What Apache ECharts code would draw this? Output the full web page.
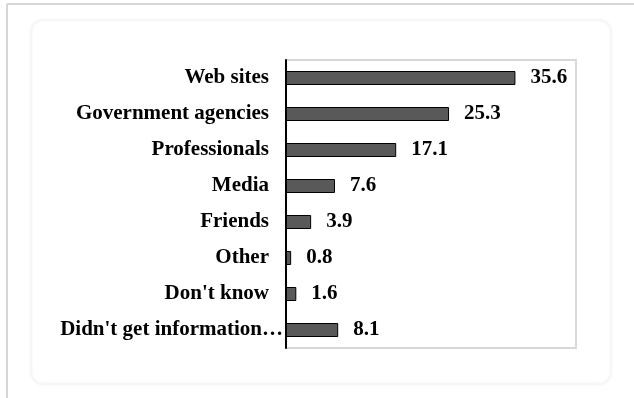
<!DOCTYPE html>
<html>
<head>
<meta charset="utf-8">
<script src="https://cdn.jsdelivr.net/npm/echarts@6/dist/echarts.min.js"></script>
<style>
  html, body { margin: 0; padding: 0; background: #ffffff; }
  #chart { width: 634px; height: 398px; }
</style>
</head>
<body>
<div id="chart"></div>
<script>
// Sources of information, percent of respondents
const categories = [
  'Web sites',
  'Government agencies',
  'Professionals',
  'Media',
  'Friends',
  'Other',
  "Don't know",
  "Didn't get information\u2026"
];
const shares = [35.6, 25.3, 17.1, 7.6, 3.9, 0.8, 1.6, 8.1];
const axisMax = 45;

const serif = '"Liberation Serif", "Times New Roman", serif';
const textSize = 21;
const chart = echarts.init(document.getElementById('chart'), null, { renderer: 'canvas' });

chart.setOption({
  backgroundColor: '#ffffff',
  animation: false,
  graphic: [
    // page frame
    { type: 'line', shape: { x1: 7, y1: 4, x2: 634, y2: 4 }, style: { stroke: '#d6d6d6', lineWidth: 2 }, silent: true },
    { type: 'line', shape: { x1: 7, y1: 4, x2: 7, y2: 398 }, style: { stroke: '#d6d6d6', lineWidth: 2 }, silent: true },
    // soft chart card
    { type: 'rect', shape: { x: 31, y: 20, width: 580, height: 364, r: 12 },
      style: { fill: 'none', stroke: '#f7f7f7', lineWidth: 3 }, silent: true, z: -1 }
  ],
  grid: {
    left: 286, right: 58, top: 60, bottom: 50,
    show: true, borderColor: '#d9d9d9', borderWidth: 2, backgroundColor: 'transparent'
  },
  xAxis: {
    type: 'value', min: 0, max: axisMax, show: false
  },
  yAxis: {
    type: 'category',
    data: categories,
    inverse: true,
    axisLine: { show: true, lineStyle: { color: '#000000', width: 2 } },
    axisTick: { show: false },
    splitLine: { show: false },
    axisLabel: {
      margin: 3,
      color: '#000000',
      fontFamily: serif,
      fontWeight: 'bold',
      fontSize: textSize,
      formatter: function (v) {
        return v.endsWith('\u2026') ? '{e|' + v + '}' : '{n|' + v + '}';
      },
      rich: {
        n: { fontFamily: serif, fontWeight: 'bold', fontSize: textSize, color: '#000', padding: [0, 14, 0, 0] },
        e: { fontFamily: serif, fontWeight: 'bold', fontSize: textSize, color: '#000', padding: [0, 0, 0, 0] }
      }
    }
  },
  series: [{
    type: 'bar',
    data: shares,
    barWidth: 14,
    itemStyle: { color: '#595959', borderColor: '#000000', borderWidth: 1 },
    label: {
      show: true,
      position: 'right',
      distance: 15,
      color: '#000000',
      fontFamily: serif,
      fontWeight: 'bold',
      fontSize: textSize,
      formatter: function (p) { return p.value.toFixed(1); }
    }
  }]
});
</script>
</body>
</html>
